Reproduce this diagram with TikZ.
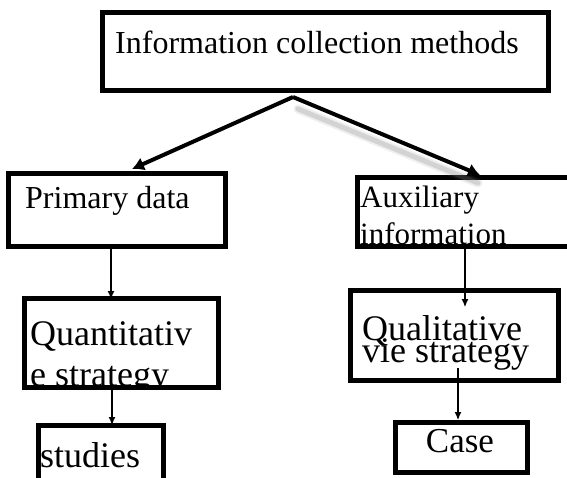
\documentclass[tikz,border=0pt]{standalone}
\usepackage{fontspec}
\setmainfont{Liberation Serif}
\usetikzlibrary{arrows.meta,calc}
\begin{document}
\begin{tikzpicture}[x=1pt,y=-1pt,
  box/.style={draw=black,line width=5pt,rectangle,inner sep=0pt,outer sep=0pt,anchor=north west},
  lbl/.style={anchor=base west,inner sep=0pt,font=\fontsize{32}{38}\selectfont},
  biglbl/.style={anchor=base west,inner sep=0pt,font=\fontsize{36}{43}\selectfont},
  bigarrow/.style={line width=4pt,-{Latex[length=12pt,width=14pt]}},
  thinarrow/.style={line width=1.1pt,-{Latex[length=8pt,width=7pt]}},
  shadowline/.style={line cap=round,draw=gray}]
\clip (0,0) rectangle (567,477);
\fill[white] (0,0) rectangle (567,477);
% boxes
\node[box,minimum width=446pt,minimum height=78pt] (top) at (102,12) {};
\node[box,minimum width=217pt,minimum height=73pt] (pri) at (8,173) {};
\node[box,minimum width=223pt,minimum height=69pt] (aux) at (357,177) {};
\node[box,minimum width=194pt,minimum height=89pt] (quant) at (24,298) {};
\node[box,minimum width=208pt,minimum height=90pt] (qual) at (350,290) {};
\node[box,minimum width=125pt,minimum height=70pt] (studies) at (38,425) {};
\node[box,minimum width=132pt,minimum height=50pt] (case) at (395,422) {};
% labels
\node[lbl] (ttop) at (115,53) {Information collection methods};
\node[lbl] (tpri) at (25,208) {Primary data};
\begin{scope}
  \clip (aux.north west) rectangle (aux.south east);
  \node[lbl,font=\fontsize{31}{37}\selectfont] (taux1) at (360,207) {Auxiliary};
  \node[lbl,font=\fontsize{31}{37}\selectfont] (taux2) at (360,244) {information};
\end{scope}
\begin{scope}
  \clip (quant.north west) rectangle (quant.south east);
  \node[biglbl] (tq1) at (30,345) {Quantitativ};
  \node[biglbl] (tq2) at (30,386) {e strategy};
\end{scope}
\node[biglbl] (tl1) at (362,340) {Qualitative};
\node[biglbl] (tl2) at (362,362) {vie strategy};
\begin{scope}
  \clip (studies.north west) rectangle (studies.south east);
  \node[biglbl] (tst) at (40,467) {studies};
\end{scope}
\node[biglbl,anchor=base,font=\fontsize{35}{42}\selectfont] (tcase) at (460,452) {Case};
% split point and arrow ends
\coordinate (o) at ([xshift=191pt,yshift=-7pt]top.south west);
\coordinate (ptip) at ([xshift=124pt,yshift=4pt]pri.north west);
\coordinate (atip) at ([xshift=123pt,yshift=2pt]aux.north west);
% shadow of the right arrow
\draw[shadowline,line width=9pt,opacity=0.12] ([xshift=5pt,yshift=-12pt]o) -- ([xshift=-2pt,yshift=-8pt]atip);
\draw[shadowline,line width=5pt,opacity=0.25] ([xshift=5pt,yshift=-12pt]o) -- ([xshift=-2pt,yshift=-8pt]atip);
% thick arrows
\draw[bigarrow] (o) -- (ptip);
\draw[bigarrow] (o) -- (atip);
% thin arrows
\draw[thinarrow] ([xshift=103pt]pri.south west) -- ([xshift=87pt,yshift=-1pt]quant.north west);
\draw[thinarrow] ([xshift=88pt]quant.south west) -- ([xshift=74pt]studies.north west);
\draw[thinarrow] ([xshift=108pt]aux.south west) -- ([xshift=115pt,yshift=-17pt]qual.north west);
\draw[thinarrow] ([xshift=108pt,yshift=12pt]qual.south west) -- ([xshift=63pt,yshift=2pt]case.north west);
\end{tikzpicture}
\end{document}
